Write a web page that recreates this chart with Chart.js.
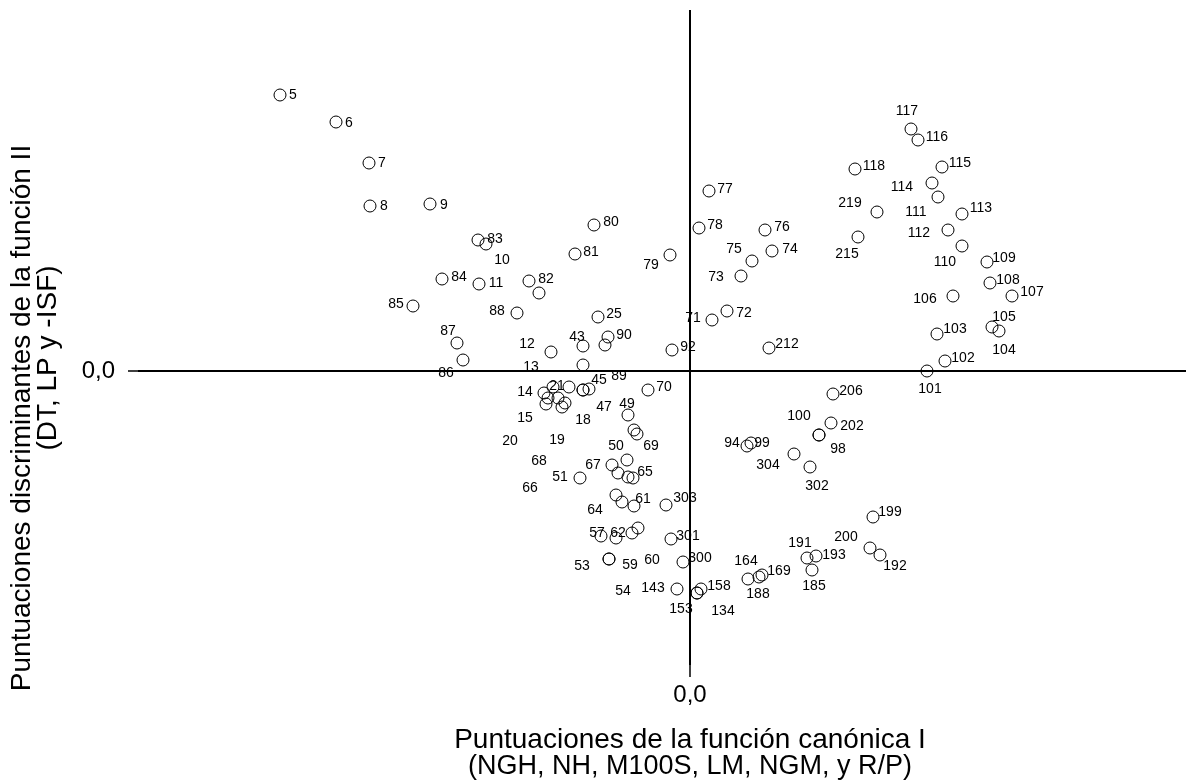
<!DOCTYPE html>
<html>
<head>
<meta charset="utf-8">
<title>Puntuaciones canónicas</title>
<script src="https://cdn.jsdelivr.net/npm/chart.js@4.4.0/dist/chart.umd.min.js"></script>
<style>
  body { margin: 0; background: #fff; }
  canvas { display: block; }
</style>
</head>
<body>
<canvas id="scatterChart" width="1186" height="783"></canvas>
<script>
// casos (etiquetas de punto), '' = sin etiqueta
const caseIds = [
  "5", "6", "7", "8", "9", "83", "10", "84", "11", "", "82", "85", "88", "80", "81", "79", "25",
  "87", "86", "12", "43", "90", "", "13", "92", "77", "78", "76", "74", "75", "73", "72", "71", "212",
  "117", "116", "118", "115", "114", "111", "219", "113", "112", "215", "110", "109", "108", "107",
  "106", "105", "104", "103", "102", "101", "14", "21", "", "15", "20", "19", "18", "", "45", "89",
  "70", "49", "47", "50", "69", "", "67", "68", "66", "65", "51", "", "64", "61", "303", "57", "62",
  "59", "60", "301", "53", "54", "300", "143", "158", "153", "134", "164", "169", "188", "199",
  "200", "192", "191", "193", "185", "206", "202", "98", "100", "94", "99", "304", "302"
];

// función canónica I
const scoreI = [
  -4.10, -3.54, -3.21, -3.20, -2.60, -2.12, -2.04, -2.48, -2.11, -1.51, -1.61, -2.77, -1.73, -0.96, -1.15, -0.20, -0.92,
  -2.33, -2.27, -1.39, -1.07, -0.82, -0.85, -1.07, -0.18, 0.19, 0.09, 0.75, 0.82, 0.62, 0.51, 0.37, 0.22, 0.79,
  2.21, 2.28, 1.65, 2.52, 2.42, 2.48, 1.87, 2.72, 2.58, 1.68, 2.72, 2.97, 3.00, 3.22,
  2.63, 3.02, 3.09, 2.47, 2.55, 2.37, -1.46, -1.37, -1.21, -1.44, -1.42, -1.32, -1.28, -1.25, -1.07, -1.01,
  -0.42, -0.62, -1.07, -0.56, -0.53, -0.63, -0.78, -0.72, -0.62, -0.57, -1.10, -0.74, -0.68, -0.56, -0.24, -0.89, -0.74,
  -0.58, -0.52, -0.19, -0.81, -0.81, -0.07, -0.13, 0.11, 0.07, 0.07, 0.58, 0.72, 0.69, 1.83,
  1.80, 1.90, 1.17, 1.26, 1.22, 1.43, 1.41, 1.29, 1.29, 0.57, 0.61, 1.04, 1.20
];

// función discriminante II
const scoreII = [
  2.76, 2.49, 2.08, 1.65, 1.67, 1.31, 1.27, 0.92, 0.87, 0.78, 0.90, 0.65, 0.58, 1.46, 1.17, 1.16, 0.54,
  0.28, 0.11, 0.19, 0.25, 0.34, 0.26, 0.06, 0.21, 1.80, 1.43, 1.41, 1.20, 1.10, 0.95, 0.60, 0.51, 0.23,
  2.42, 2.31, 2.02, 2.04, 1.88, 1.74, 1.59, 1.57, 1.41, 1.34, 1.25, 1.09, 0.88, 0.75,
  0.75, 0.44, 0.40, 0.37, 0.10, 0.00, -0.22, -0.16, -0.16, -0.33, -0.27, -0.27, -0.36, -0.32, -0.19, -0.18,
  -0.19, -0.44, -0.19, -0.59, -0.63, -0.89, -0.94, -1.02, -1.06, -1.07, -1.07, -1.24, -1.31, -1.35, -1.34, -1.65, -1.67,
  -1.62, -1.57, -1.68, -1.88, -1.88, -1.91, -2.18, -2.18, -2.22, -2.22, -2.08, -2.04, -2.06, -1.46,
  -1.77, -1.84, -1.87, -1.85, -1.99, -0.23, -0.52, -0.64, -0.64, -0.75, -0.72, -0.83, -0.96
];

const tickValues = [0];
const tickLabels = ["0,0"];

// desplazamiento de cada etiqueta respecto a su punto (px)
const labelOffsets = [
  [13, 0], [13, 1], [13, 0], [14, 0], [14, 1], [17, -1], [16, 16], [17, -2], [17, -1], [0, 0], [17, -2], [-17, -2], [-20, -2], [17, -3], [16, -2], [-19, 10], [16, -3],
  [-9, -12], [-17, 13], [-24, -8], [-6, -9], [16, -2], [0, 0], [-52, 2], [16, -3], [16, -2], [16, -3], [17, -3], [18, -2], [-18, -12], [-25, 1], [17, 2], [-19, -2], [18, -4],
  [-4, -18], [19, -3], [19, -3], [18, -4], [-30, 4], [-22, 15], [-27, -9], [19, -6], [-29, 3], [-11, 17], [-17, 16], [17, -4], [18, -3], [20, -4],
  [-28, 3], [12, -10], [5, 19], [18, -5], [18, -3], [3, 18], [-19, -1], [4, -1], [0, 0], [-21, 14], [-38, 43], [-1, 42], [21, 13], [0, 0], [16, -10], [30, -13],
  [16, -3], [-1, -11], [21, 17], [-18, 16], [14, 12], [0, 0], [-19, 0], [-79, -12], [-98, 11], [12, -6], [-20, -1], [0, 0], [-27, 8], [9, -7], [19, -7], [-4, -3], [2, -5],
  [-2, 32], [14, 32], [17, -3], [-27, 7], [14, 32], [17, -4], [-24, -1], [18, -3], [-16, 16], [26, 18], [-2, -18], [17, -4], [-1, 17], [17, -5],
  [-24, -11], [15, 11], [-7, -15], [18, -1], [2, 16], [18, -3], [21, 3], [19, 14], [-20, -19], [-15, -3], [11, 0], [-26, 11], [7, 19]
];

const FONT = "'Liberation Sans', Arial, sans-serif";

const pointLabels = {
  id: "pointLabels",
  afterDatasetsDraw(chart) {
    const c = chart.ctx;
    const meta = chart.getDatasetMeta(0);
    c.save();
    c.font = "14px " + FONT;
    c.fillStyle = "#000";
    c.textAlign = "center";
    c.textBaseline = "middle";
    meta.data.forEach((pt, i) => {
      if (!caseIds[i]) return;
      const [dx, dy] = labelOffsets[i];
      c.fillText(caseIds[i], pt.x + dx, pt.y + dy);
    });
    c.restore();
  }
};

// títulos de los ejes
const axisTitles = {
  id: "axisTitles",
  afterDraw(chart) {
    const c = chart.ctx;
    c.save();
    c.fillStyle = "#000";
    c.textAlign = "center";
    c.textBaseline = "middle";
    c.font = "28px " + FONT;
    c.fillText("Puntuaciones de la función canónica I", 690, 740);
    c.font = "27px " + FONT;
    c.fillText("(NGH, NH, M100S, LM, NGM, y R/P)", 690, 767);
    c.font = "28px " + FONT;
    c.translate(22, 418);
    c.rotate(-Math.PI / 2);
    c.fillText("Puntuaciones discriminantes de la función II", 0, 0);
    c.rotate(Math.PI / 2);
    c.translate(26, -60);
    c.rotate(-Math.PI / 2);
    c.fillText("(DT, LP y -ISF)", 0, 0);
    c.restore();
  }
};

const ctx = document.getElementById("scatterChart").getContext("2d");

new Chart(ctx, {
  type: "scatter",
  data: {
    datasets: [{
      data: scoreI.map((x, i) => ({ x: x, y: scoreII[i] })),
      pointRadius: 6,
      pointHoverRadius: 6,
      borderWidth: 1,
      borderColor: "#000",
      backgroundColor: "rgba(0,0,0,0)"
    }]
  },
  options: {
    responsive: false,
    animation: false,
    events: [],
    layout: { autoPadding: false, padding: { top: 10, right: 0, left: 0, bottom: 0 } },
    plugins: { legend: { display: false }, tooltip: { enabled: false } },
    scales: {
      x: {
        type: "linear",
        min: -5.52,
        max: 4.96,
        afterBuildTicks: (s) => { s.ticks = tickValues.map(v => ({ value: v })); },
        afterFit: (s) => { s.height = 118; s.paddingLeft = 0; s.paddingRight = 0; },
        ticks: {
          callback: (v) => tickLabels[tickValues.indexOf(v)],
          color: "#000",
          padding: 4,
          maxRotation: 0,
          font: { size: 24, family: FONT }
        },
        grid: { color: "#000", lineWidth: 2, tickLength: 12, tickWidth: 1.5, tickColor: "#000" },
        border: { display: false }
      },
      y: {
        type: "linear",
        min: -2.94,
        max: 3.61,
        afterBuildTicks: (s) => { s.ticks = tickValues.map(v => ({ value: v })); },
        afterFit: (s) => { s.width = 138; s.paddingTop = 0; s.paddingBottom = 0; },
        ticks: {
          callback: (v) => tickLabels[tickValues.indexOf(v)],
          color: "#000",
          padding: 13,
          font: { size: 24, family: FONT }
        },
        grid: { color: "#000", lineWidth: 2, tickLength: 10, tickWidth: 1.5, tickColor: "#000" },
        border: { display: false }
      }
    }
  },
  plugins: [pointLabels, axisTitles]
});
</script>
</body>
</html>
